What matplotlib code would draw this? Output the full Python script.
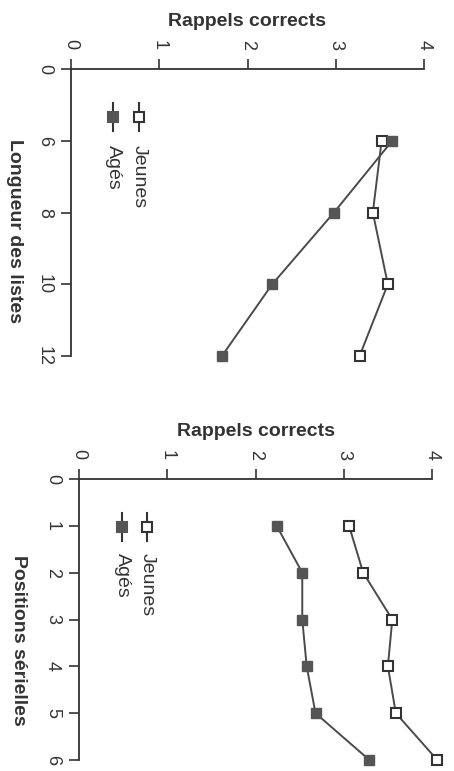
import matplotlib
matplotlib.use('Agg')
import matplotlib.pyplot as plt

plt.rcParams['font.family'] = ['Liberation Sans', 'DejaVu Sans']

# Rappels corrects selon la longueur des listes (axe categoriel 0, 6, 8, 10, 12)
longueur_ticks = ['0', '6', '8', '10', '12']
longueur = ['6', '8', '10', '12']
longueur_jeunes = [3.52, 3.42, 3.59, 3.27]
longueur_ages = [3.64, 2.98, 2.28, 1.71]

# Rappels corrects selon la position serielle
positions_ticks = [0, 1, 2, 3, 4, 5, 6]
positions = [1, 2, 3, 4, 5, 6]
positions_jeunes = [3.06, 3.22, 3.55, 3.50, 3.59, 4.06]
positions_ages = [2.24, 2.53, 2.53, 2.58, 2.68, 3.29]

rappel_ticks = [0, 1, 2, 3, 4]

INK = '#333333'
LINE = '#4a4a4a'
FILL = '#555555'
W, H = 454, 771

fig = plt.figure(figsize=(W / 100, H / 100), dpi=100)
fig.patch.set_facecolor('white')


def make_axes(left, top, right, bottom):
    ax = fig.add_axes([left / W, 1 - bottom / H, (right - left) / W, (bottom - top) / H])
    ax.set_facecolor('none')
    for side in ['bottom', 'right']:
        ax.spines[side].set_visible(False)
    for side in ['top', 'left']:
        ax.spines[side].set_color(INK)
        ax.spines[side].set_linewidth(1.3)
    ax.xaxis.set_ticks_position('top')
    ax.xaxis.set_label_position('top')
    ax.tick_params(direction='out', length=7, width=1.2, color=INK,
                   labelsize=13, labelcolor=INK)
    ax.tick_params(axis='x', pad=7)
    ax.tick_params(axis='y', pad=6)
    ax.set_xlim(0, 4)
    ax.set_xticks(rappel_ticks)
    ax.set_xticklabels([str(t) for t in rappel_ticks], rotation=-90)
    ax.set_xlabel('Rappels corrects', fontsize=14, fontweight='bold',
                  color=INK, labelpad=10)
    return ax


def draw_series(ax, y, jeunes, ages):
    ax.plot(jeunes, y, '-', color=LINE, lw=1.4, marker='s', ms=7,
            mfc='white', mec=INK, mew=1.5, clip_on=False, zorder=3)
    ax.plot(ages, y, '-', color=LINE, lw=1.4, marker='s', ms=7.5,
            mfc=FILL, mec=FILL, clip_on=False, zorder=3)


def draw_legend(ax, xj, xa, ym, half, ytext):
    for x, face in [(xj, 'white'), (xa, FILL)]:
        ax.plot([x, x], [ym - half, ym + half], color=INK, lw=1.5,
                transform=ax.transAxes, clip_on=False)
        ax.plot([x], [ym], marker='s', ms=7, mfc=face,
                mec=INK if face == 'white' else FILL, mew=1.5,
                transform=ax.transAxes, clip_on=False)
    ax.text(xj, ytext, 'Jeunes', rotation=-90, ha='center', va='top',
            fontsize=14, color=INK, transform=ax.transAxes)
    ax.text(xa, ytext, 'Agés', rotation=-90, ha='center', va='top',
            fontsize=14, color=INK, transform=ax.transAxes)


# graphique du haut
ax1 = make_axes(71, 69, 424, 356)
pos1 = [longueur_ticks.index(v) for v in longueur]
draw_series(ax1, pos1, longueur_jeunes, longueur_ages)
ax1.set_ylim(len(longueur_ticks) - 1, 0)
ax1.set_yticks(range(len(longueur_ticks)))
ax1.set_yticklabels(longueur_ticks, rotation=-90, va='center')
ax1.set_ylabel('Longueur des listes', fontsize=14, fontweight='bold',
               color=INK, rotation=-90, va='center', ha='center')
ax1.yaxis.set_label_coords(-0.159, 0.436)
draw_legend(ax1, 0.193, 0.119, 0.833, 0.048, 0.735)

# graphique du bas
ax2 = make_axes(79, 479, 432, 760)
draw_series(ax2, positions, positions_jeunes, positions_ages)
ax2.set_ylim(6, 0)
ax2.set_yticks(positions_ticks)
ax2.set_yticklabels([str(t) for t in positions_ticks], rotation=-90, va='center')
ax2.set_ylabel('Positions sérielles', fontsize=14, fontweight='bold',
               color=INK, rotation=-90, va='center', ha='center')
ax2.yaxis.set_label_coords(-0.17, 0.427)
draw_legend(ax2, 0.193, 0.122, 0.829, 0.05, 0.737)

fig.savefig('out.png', dpi=100, facecolor='white')
